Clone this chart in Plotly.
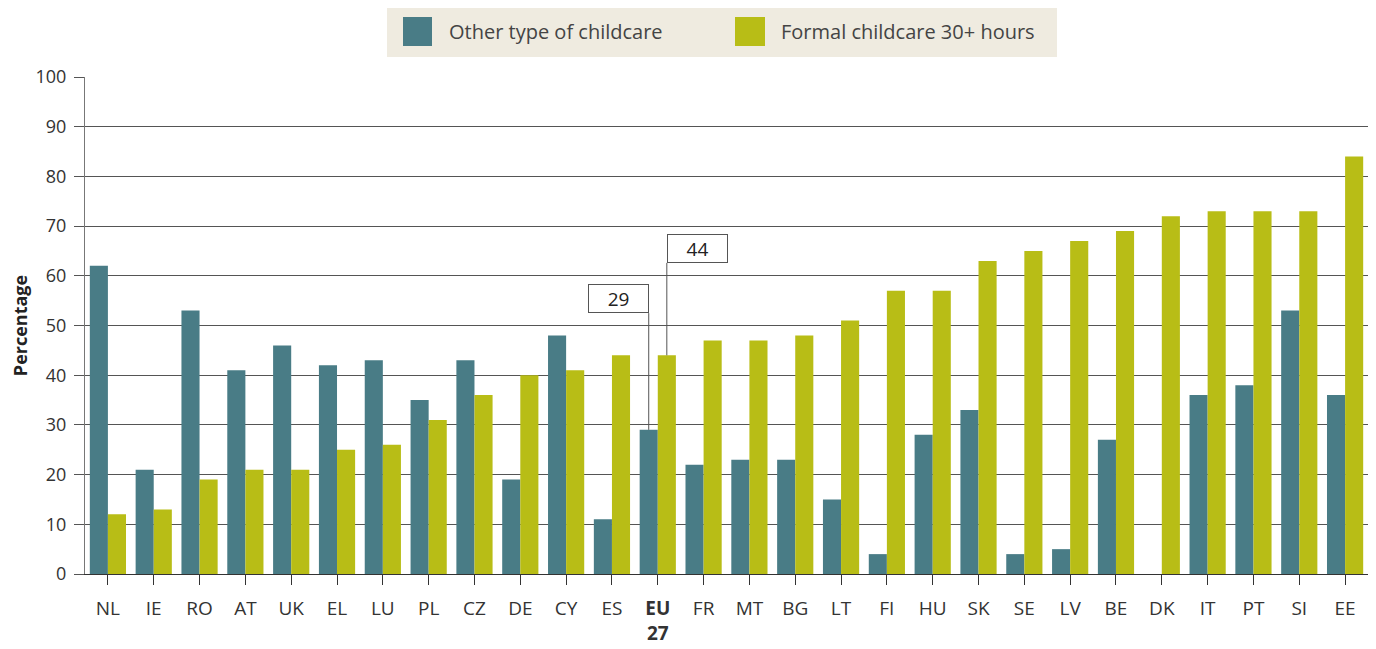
import plotly.graph_objects as go

countries = ["NL", "IE", "RO", "AT", "UK", "EL", "LU", "PL", "CZ", "DE", "CY", "ES", "EU27",
             "FR", "MT", "BG", "LT", "FI", "HU", "SK", "SE", "LV", "BE", "DK", "IT", "PT", "SI", "EE"]
tick_labels = ["NL", "IE", "RO", "AT", "UK", "EL", "LU", "PL", "CZ", "DE", "CY", "ES", "<b>EU</b><br><b>27</b>",
               "FR", "MT", "BG", "LT", "FI", "HU", "SK", "SE", "LV", "BE", "DK", "IT", "PT", "SI", "EE"]
other_childcare = [62, 21, 53, 41, 46, 42, 43, 35, 43, 19, 48, 11, 29,
                   22, 23, 23, 15, 4, 28, 33, 4, 5, 27, None, 36, 38, 53, 36]
formal_30plus = [12, 13, 19, 21, 21, 25, 26, 31, 36, 40, 41, 44, 44,
                 47, 47, 48, 51, 57, 57, 63, 65, 67, 69, 72, 73, 73, 73, 84]
series_names = ["Other type of childcare", "Formal childcare 30+ hours"]

TEAL = "#497C86"
OLIVE = "#B8BD16"
FONT = "Open Sans"
OFF = 8  # page body margin
W, H = 1376 - OFF, 649 - OFF
ML, MT = 85 - OFF, 77 - OFF
MB = H - (574 - OFF)
MR = W - (1368 - OFF)
PW, PH = W - ML - MR, H - MT - MB

def px_x(p):
    return (p - OFF - ML) / PW

def px_y(p):
    return (574 - p) / PH

idx = list(range(len(countries)))
fig = go.Figure()
fig.add_trace(go.Bar(x=idx, y=other_childcare, name=series_names[0], marker_color=TEAL,
                     marker_line_width=0, showlegend=False))
fig.add_trace(go.Bar(x=idx, y=formal_30plus, name=series_names[1], marker_color=OLIVE,
                     marker_line_width=0, showlegend=False))

BARGAP = 0.21
half = (1 - BARGAP) / 4  # center offset of each bar in group

shapes = []
annotations = []

# Legend (manual)
shapes.append(dict(type="rect", xref="paper", yref="paper", x0=px_x(387), x1=px_x(1057),
                   y0=px_y(57), y1=px_y(6), fillcolor="#EFEBE0", line_width=0, layer="below"))
for (sx0, sx1, tx, col, name) in [(403, 432, 447, TEAL, series_names[0]),
                                  (735, 765, 779, OLIVE, series_names[1])]:
    shapes.append(dict(type="rect", xref="paper", yref="paper", x0=px_x(sx0), x1=px_x(sx1),
                       y0=px_y(46), y1=px_y(17), fillcolor=col, line_width=0))
    annotations.append(dict(xref="paper", yref="paper", x=px_x(tx), y=px_y(31.5), text=name,
                            showarrow=False, xanchor="left", yanchor="middle",
                            font=dict(family=FONT, size=20, color="#444")))

# EU27 callouts
eu = countries.index("EU27")
callouts = [
    (eu - half, other_childcare[eu], 52.5, "right"),
    (eu + half, formal_30plus[eu], 62.6, "left"),
]
for (cx, val, ybox, anchor) in callouts:
    shapes.append(dict(type="line", xref="x", yref="y", x0=cx, x1=cx, y0=val, y1=ybox,
                       line=dict(color="#555", width=1)))
    annotations.append(dict(xref="x", yref="y", x=cx, y=ybox, text=str(val), showarrow=False,
                            xanchor=anchor, yanchor="bottom", width=51, height=19,
                            bordercolor="#555", borderwidth=1, borderpad=4, bgcolor="white",
                            font=dict(family=FONT, size=19, color="#222")))

fig.update_layout(
    width=W, height=H,
    margin=dict(l=ML, r=MR, t=MT, b=MB, autoexpand=False),
    paper_bgcolor="white", plot_bgcolor="white",
    barmode="group", bargap=BARGAP, bargroupgap=0,
    font=dict(family=FONT, color="#333"),
    shapes=shapes, annotations=annotations,
    xaxis=dict(tickmode="array", tickvals=idx, ticktext=tick_labels, range=[-0.5, len(idx) - 0.5],
               tickson="boundaries", ticks="outside", ticklen=10, tickcolor="#333",
               showline=True, linecolor="#333", linewidth=1, showgrid=False,
               ticklabelstandoff=7, automargin=False,
               tickfont=dict(family=FONT, size=19, color="#333")),
    yaxis=dict(range=[0, 100], dtick=10, ticks="outside", ticklen=10, tickcolor="#555",
               showline=True, linecolor="#777", linewidth=1, showgrid=True,
               gridcolor="#555", gridwidth=1, zeroline=False,
               ticklabelstandoff=4, automargin=False,
               tickfont=dict(family=FONT, size=18, color="#333"),
               title=dict(text="<b>Percentage</b>", font=dict(family=FONT, size=18, color="#222"),
                          standoff=6)),
)

fig.write_html("out.html")
